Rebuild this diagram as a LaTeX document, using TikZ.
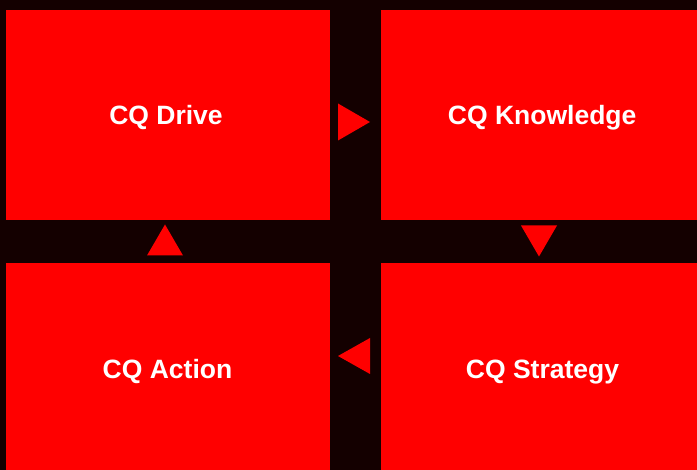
\documentclass[tikz,border=0pt]{standalone}
\usepackage{fontspec}
\setmainfont{Liberation Sans}
\definecolor{bgdark}{HTML}{140000}
\definecolor{boxred}{HTML}{FF0000}
\begin{document}
\begin{tikzpicture}[x=1pt,y=-1pt,
  panel/.style={fill=boxred,draw=none,inner sep=0pt},
  paneltext/.style={inner sep=0pt,anchor=base,
    font=\fontsize{26.5}{30}\selectfont\bfseries,text=white},
  marker/.style={fill=boxred,draw=none}]
\fill[bgdark] (0,0) rectangle (697,470);
\useasboundingbox (0,0) rectangle (697,470);
\node[panel,minimum width=324pt,minimum height=210pt] (drive) at (168,115) {};
\node[panel,minimum width=316pt,minimum height=210pt] (know) at (539,115) {};
\node[panel,minimum width=324pt,minimum height=207pt] (action) at (168,366.5) {};
\node[panel,minimum width=316pt,minimum height=207pt] (strat) at (539,366.5) {};
\node[paneltext] (drivet) at (166,125) {CQ Drive};
\node[paneltext] (knowt) at (542.2,125) {CQ Knowledge};
\node[paneltext] (actiont) at (167.5,378.5) {CQ Action};
\node[paneltext] (stratt) at (542.5,378.5) {CQ Strategy};
\fill[marker] (338,103.5) -- (370,122) -- (338,140.5) -- cycle;
\fill[marker] (521,225.5) -- (557,225.5) -- (539,256.5) -- cycle;
\fill[marker] (370,338) -- (338,356) -- (370,374) -- cycle;
\fill[marker] (147,255.5) -- (183,255.5) -- (165,224.5) -- cycle;
\end{tikzpicture}
\end{document}
